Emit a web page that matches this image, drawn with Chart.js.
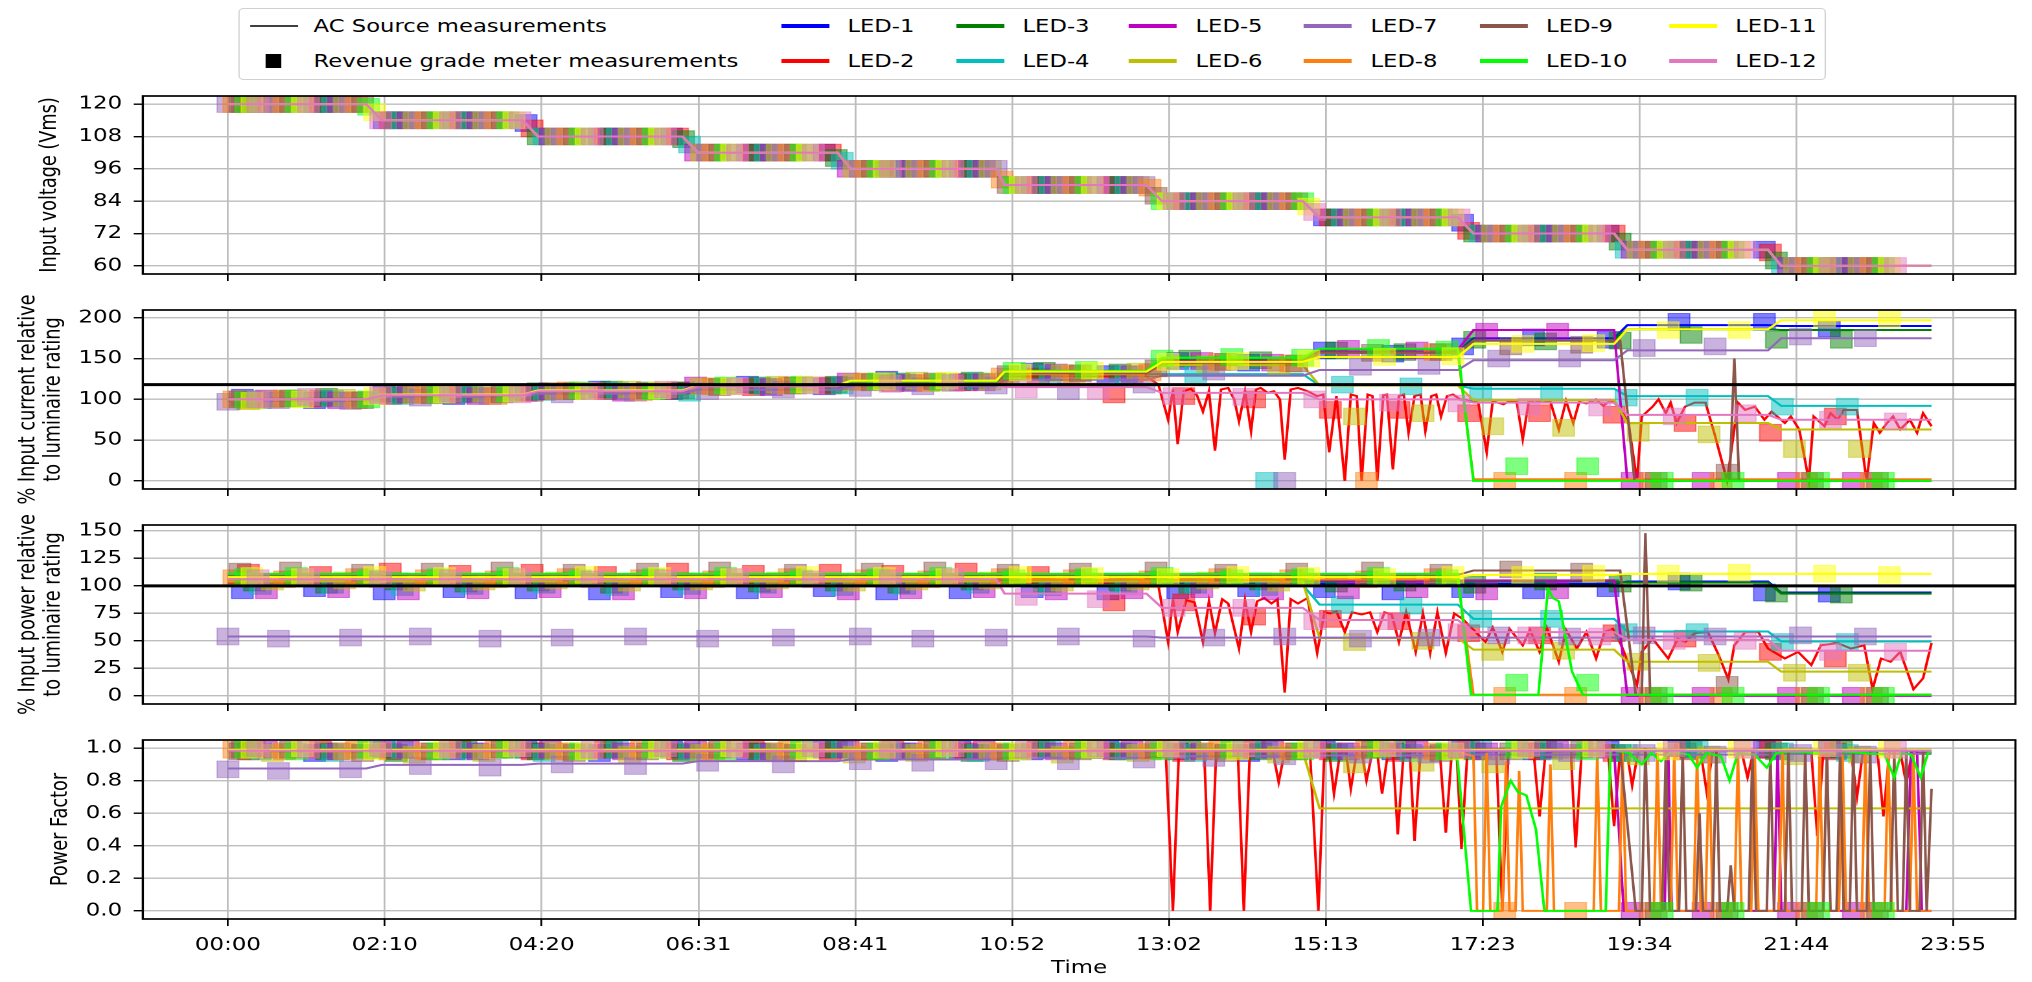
<!DOCTYPE html>
<html><head><meta charset="utf-8">
<script src="https://cdn.jsdelivr.net/npm/chart.js@4.4.0/dist/chart.umd.min.js"></script>
<style>
html,body{margin:0;padding:0;background:#fff;overflow:hidden;width:2032px;height:982px;}
#stage{position:absolute;left:0;top:0;width:1568px;height:982px;transform-origin:0 0;transform:scale(1.29592,1);}
#stage canvas{position:absolute;left:0;}
#legend{position:absolute;left:184.4px;top:8px;width:1224.6px;height:72px;border:1px solid #d0d0d0;border-radius:4px;background:#fff;box-sizing:border-box;font-family:'DejaVu Sans',sans-serif;font-size:17.5px;color:#000;}
.lt{position:absolute;height:20px;line-height:20px;white-space:nowrap;}
.sw{position:absolute;}
</style></head><body>
<div id="stage">
  <canvas id="c0"></canvas>
  <canvas id="c1"></canvas>
  <canvas id="c2"></canvas>
  <canvas id="c3"></canvas>
  <div id="legend"></div>
</div>
<script>
// ---------------- DATA ----------------
const ledNames = ['LED-1','LED-2','LED-3','LED-4','LED-5','LED-6','LED-7','LED-8','LED-9','LED-10','LED-11','LED-12'];
const ledColors = ['#0000ff','#ff0000','#008000','#00bfbf','#bf00bf','#bfbf00','#9467bd','#ff7f0e','#8c564b','#00ff00','#ffff00','#e377c2'];

const timeTickMinutes = [0,130.45,260.91,391.36,521.82,652.27,782.73,913.18,1043.64,1174.09,1304.55,1435];
const timeTickLabels = ['00:00','02:10','04:20','06:31','08:41','10:52','13:02','15:13','17:23','19:34','21:44','23:55'];
const voltTicks = [60,72,84,96,108,120];
const currentTicks = [0,50,100,150,200];
const powerTicks = [0,25,50,75,100,125,150];
const pfTicks = [0,0.2,0.4,0.6,0.8,1.0];
const currentLimit = 118;
const powerLimit = 100;

// AC source sample times (minutes) shared by the stepped series below
const sourceTimes = [0,115,128,245,258,378,391,507,518,639,646,764,777,894,908,1023,1036,1153,1164,1281,1292,1417];
const sourceVolt = [120,120,114,114,108,108,102,102,96,96,90,90,84,84,78,78,72,72,66,66,60,60];

// Current (% of rating), AC source
const led1Curr = [101,101,106,106,111,111,117,117,122,122,133,133,146,146,158,158,175,175,191,191,190,190];
const led2Curr = [[0,99],[115,99],[128,105],[245,105],[258,110],[378,110],[391,116],[507,116],[518,121],[639,121],[646,128],[764,128],[774,118],[782,75],[786,112],[790,45],[795,110],[801,113],[806,105],[811,85],[816,110],[821,37],[826,112],[832,114],[837,100],[841,73],[846,110],[851,61],[855,112],[859,114],[865,108],[870,110],[875,100],[879,26],[884,112],[890,114],[898,110],[906,104],[911,106],[916,35],[922,104],[929,0],[934,106],[939,104],[943,0],[948,106],[952,104],[956,0],[961,105],[964,106],[969,14],[974,104],[978,106],[982,59],[987,104],[992,106],[996,61],[1001,104],[1005,106],[1009,79],[1014,104],[1019,106],[1025,100],[1033,98],[1040,96],[1047,35],[1052,98],[1056,96],[1061,94],[1066,98],[1072,97],[1077,51],[1082,98],[1087,96],[1093,99],[1100,97],[1107,63],[1113,98],[1119,71],[1124,97],[1130,95],[1138,100],[1144,92],[1150,99],[1157,91],[1165,71],[1172,0],[1176,79],[1185,91],[1190,100],[1196,83],[1200,96],[1205,71],[1212,91],[1220,96],[1229,96],[1237,55],[1247,0],[1256,96],[1262,87],[1270,91],[1278,75],[1284,85],[1295,71],[1300,79],[1307,63],[1315,0],[1319,79],[1328,67],[1333,83],[1339,75],[1344,87],[1355,87],[1363,0],[1369,71],[1374,59],[1380,71],[1385,79],[1391,63],[1399,75],[1405,59],[1410,83],[1417,67]];
const led3Curr = [100,100,105,105,110,110,117,117,122,122,134,134,148,148,158,158,172,172,186,186,185,185];
const led4Curr = [100,100,105,105,110,110,116,116,121,121,131,131,131,131,117,117,113,113,104,104,92,92];
const led5Curr = [100,100,105,105,110,110,116,116,121,121,132,132,147,147,161,161,185,185,0,0,0,0];
const led6Curr = [100,100,105,105,110,110,116,116,121,121,132,132,142,142,117,117,99,99,71,71,63,63];
const led7Curr = [98,98,103,103,107,107,112,112,116,116,124,124,129,129,136,136,148,148,160,160,175,175];
const led8Curr = [100,100,105,105,110,110,116,116,121,121,131,131,145,145,157,157,2,2,2,2,2,2];
const led9Curr = [[0,100],[115,100],[128,105],[245,105],[258,110],[378,110],[391,116],[507,116],[518,121],[639,121],[646,132],[764,132],[777,145],[894,145],[908,157],[1023,157],[1036,172],[1158,172],[1170,0],[1249,0],[1253,150],[1257,0],[1417,0]];
const led10Curr = [100,100,106,106,111,111,117,117,122,122,135,135,151,151,162,162,0,0,0,0,0,0];
const led11Curr = [100,100,106,106,111,111,117,117,123,123,134,134,146,146,152,152,168,168,186,186,197,197];
const led12Curr = [100,100,105,105,110,110,116,116,119,119,115,115,108,108,100,100,96,96,81,81,75,75];

// Power (% of rating), AC source
const led1Pow = [102,102,102,102,102,102,102,102,102,102,102,102,102,102,102,102,102,102,104,104,94,94];
const led2Pow = [[0,103],[764,103],[774,100],[782,49],[786,88],[790,58],[797,87],[804,85],[811,49],[816,86],[821,57],[827,88],[832,84],[841,43],[846,87],[851,58],[856,86],[862,89],[868,84],[873,88],[879,3],[884,88],[890,84],[898,89],[906,39],[912,76],[917,75],[922,77],[929,58],[935,76],[943,74],[950,76],[956,58],[962,76],[968,74],[974,49],[980,76],[988,40],[994,75],[1000,39],[1006,76],[1013,39],[1020,75],[1027,70],[1036,60],[1046,49],[1052,62],[1060,40],[1066,61],[1077,46],[1083,60],[1091,40],[1097,62],[1107,31],[1113,60],[1122,43],[1130,58],[1138,34],[1145,58],[1152,61],[1159,46],[1172,10],[1176,40],[1185,52],[1198,34],[1206,52],[1212,49],[1220,57],[1231,58],[1240,37],[1248,15],[1253,46],[1262,58],[1273,58],[1281,43],[1295,34],[1306,40],[1317,28],[1325,46],[1339,48],[1350,43],[1361,46],[1368,6],[1375,34],[1383,31],[1391,40],[1402,6],[1410,16],[1417,48]];
const led3Pow = [104,104,104,104,104,104,104,104,104,104,104,104,104,104,104,104,104,104,103,103,93,93];
const led4Pow = [101,101,101,101,101,101,101,101,101,101,101,101,101,101,83,83,70,70,58.5,58.5,49.5,49.5];
const led5Pow = [105,105,105,105,105,105,105,105,105,105,105,105,105,105,105,105,105,105,0,0,0,0];
const led6Pow = [104,104,104,104,104,104,104,104,104,104,104,104,104,104,52.5,52.5,42,42,31,31,22,22];
const led7Pow = [54,54,54,54,54,54,54,54,54,54,54,54,53,53,53,53,53,53,54,54,54,54];
const led8Pow = [106,106,106,106,106,106,106,106,106,106,106,106,106,106,106,106,1,1,1,1,1,1];
const led9Pow = [[0,110],[1023,110],[1036,114],[1158,114],[1171,1],[1176,1],[1179,148],[1183,1],[1417,1]];
const led10Pow = [[0,111],[1023,111],[1034,1],[1090,1],[1098,98],[1102,89],[1107,86],[1118,22],[1127,1],[1417,1]];
const led11Pow = [108,108,108,108,108,108,108,108,108,108,108,108,108,108,108,108,110,110,111,111,111,111];
const led12Pow = [106,106,106,106,106,106,106,106,106,106,93,93,80,80,69,69,58,58,51,51,41,41];

// Power factor, AC source
const led1PF = [0.99,0.99,0.99,0.99,0.99,0.99,0.99,0.99,0.99,0.99,0.99,0.99,0.99,0.99,0.99,0.99,0.99,0.99,0.99,0.99,0.99,0.99];
const led2PF = [[0,0.98],[780,0.98],[786,0],[791,0.98],[812,0.98],[817,0],[822,0.98],[840,0.98],[845,0],[850,0.98],[869,0.98],[874,0.79],[879,0.98],[900,0.98],[907,0],[912,0.98],[916,0.98],[920,0.72],[925,0.97],[930,0.98],[934,0.75],[939,0.98],[943,0.98],[947,0.8],[952,0.98],[956,0.97],[960,0.72],[965,0.98],[969,0.98],[973,0.47],[978,0.98],[983,0.98],[987,0.43],[992,0.98],[1008,0.98],[1013,0.48],[1018,0.98],[1022,0.98],[1026,0.38],[1031,0.98],[1055,0.98],[1060,0],[1065,0.98],[1086,0.98],[1091,0.58],[1096,0.98],[1117,0.98],[1121,0.39],[1126,0.98],[1148,0.98],[1153,0.52],[1158,0.98],[1164,0.96],[1168,0.77],[1173,0.98],[1225,0.98],[1230,0.73],[1235,0.98],[1259,0.98],[1264,0.82],[1269,0.98],[1317,0.98],[1322,0.46],[1327,0.98],[1350,0.98],[1355,0.7],[1360,0.98],[1372,0.98],[1377,0.58],[1382,0.98],[1391,0.98],[1396,0.78],[1401,0.98],[1417,0.97]];
const led3PF = [0.985,0.985,0.985,0.985,0.985,0.985,0.985,0.985,0.985,0.985,0.985,0.985,0.985,0.985,0.985,0.985,0.985,0.985,0.985,0.985,0.985,0.985];
const led4PF = [0.98,0.98,0.98,0.98,0.98,0.98,0.98,0.98,0.98,0.98,0.98,0.98,0.98,0.98,0.98,0.98,0.98,0.98,0.98,0.98,0.98,0.98];
const led5PF = [[0,0.99],[1153,0.99],[1161,0],[1195,0],[1198,0.98],[1201,0],[1286,0],[1289,0.98],[1292,0],[1396,0],[1400,0.98],[1405,0.98],[1409,0],[1417,0]];
const led6PF = [0.98,0.98,0.98,0.98,0.98,0.98,0.98,0.98,0.98,0.98,0.98,0.98,0.98,0.98,0.63,0.63,0.63,0.63,0.63,0.63,0.63,0.63];
const led7PF = [0.875,0.875,0.897,0.897,0.905,0.905,0.92,0.92,0.93,0.93,0.94,0.94,0.95,0.95,0.955,0.955,0.96,0.96,0.96,0.96,0.965,0.965];
const led8PF = [[0,0.98],[1023,0.98],[1036,0.95],[1039,0],[1044,0],[1047,0.97],[1050,0],[1060,0],[1063,0.92],[1066,0],[1071,0],[1074,0.86],[1077,0],[1097,0],[1100,0.9],[1103,0],[1136,0],[1139,0.97],[1142,0],[1157,0],[1160,0.97],[1163,0],[1186,0],[1189,0.97],[1192,0],[1200,0],[1203,0.97],[1206,0],[1219,0],[1222,0.95],[1225,0],[1229,0],[1232,0.97],[1235,0],[1253,0],[1256,0.97],[1259,0],[1267,0],[1270,0.96],[1273,0],[1290,0],[1293,0.97],[1296,0],[1321,0],[1324,0.97],[1327,0],[1340,0],[1343,0.96],[1346,0],[1359,0],[1362,0.97],[1365,0],[1378,0],[1381,0.97],[1384,0],[1399,0],[1402,0.96],[1405,0],[1417,0]];
const led9PF = [[0,0.99],[1158,0.99],[1171,0],[1176,0],[1179,1.0],[1183,0],[1193,0],[1196,0.98],[1199,0],[1207,0],[1210,0.98],[1213,0],[1221,0],[1224,0.6],[1227,0],[1235,0],[1238,0.98],[1241,0],[1247,0],[1250,0.28],[1253,0],[1265,0],[1268,0.98],[1271,0],[1280,0],[1283,0.98],[1286,0],[1295,0],[1298,0.98],[1301,0],[1309,0],[1312,0.98],[1315,0],[1327,0],[1330,0.98],[1333,0],[1338,0],[1341,0.98],[1344,0],[1349,0],[1352,0.98],[1355,0],[1363,0],[1366,0.98],[1369,0],[1383,0],[1386,0.98],[1389,0],[1393,0],[1396,0.98],[1399,0],[1407,0],[1410,0.98],[1413,0],[1417,0.75]];
const led10PF = [[0,0.99],[1022,0.99],[1034,0],[1056,0],[1059,0.64],[1067,0.8],[1073,0.73],[1080,0.71],[1088,0.5],[1095,0],[1146,0],[1150,0.99],[1165,0.97],[1176,0.9],[1184,0.97],[1192,0.92],[1200,0.98],[1215,0.96],[1222,0.88],[1230,0.97],[1242,0.95],[1249,0.8],[1256,0.97],[1270,0.96],[1280,0.88],[1288,0.97],[1300,0.98],[1320,0.97],[1340,0.98],[1360,0.97],[1378,0.96],[1386,0.82],[1392,0.97],[1400,0.96],[1408,0.82],[1414,0.97],[1417,0.98]];
const led11PF = [0.99,0.99,0.99,0.99,0.99,0.99,0.99,0.99,0.99,0.99,0.99,0.99,0.99,0.99,0.99,0.99,0.99,0.99,0.99,0.99,0.99,0.99];
const led12PF = [0.985,0.985,0.985,0.985,0.985,0.985,0.985,0.985,0.985,0.985,0.985,0.985,0.985,0.985,0.985,0.985,0.985,0.985,0.985,0.985,0.985,0.985];

// Revenue grade meter readings: times (minutes) and values per LED
const led1MeterTimes = [12,72,130,188,248,309,369,432,496,548,609,669,732,790,849,912,969,1027,1086,1148,1207,1278,1332];
const led1MeterVolt = [120,120,114,114,113,108,108,102,102,96,96,90,90,84,84,78,78,76,72,72,66,66,60];
const led1MeterCurr = [102,99,107,104,108,112,110,118,116,124,121,134,131,147,145,160,156,165,176,173,195,195,187];
const led1MeterPow = [96,98,95,97,96,95,97,96,98,95,96,97,95,96,98,97,95,97,96,98,104,94,93];
const led1MeterPF = [0.99,0.97,0.99,0.98,0.99,0.97,0.99,0.98,0.99,0.97,0.99,0.98,0.99,0.98,0.97,0.99,0.98,0.99,0.98,0.99,1.0,0.99,0.99];

const led2MeterTimes = [17,77,135,193,253,314,374,437,501,553,614,674,737,795,854,917,974,1032,1091,1153,1212,1283,1337];
const led2MeterVolt = [120,120,114,114,111,108,108,102,102,96,96,90,90,84,84,78,78,73,72,72,66,65,60];
const led2MeterCurr = [98,101,104,106,108,110,111,115,117,120,121,128,106,104,100,87,87,83,83,81,71,59,79];
const led2MeterPow = [112,110,113,111,112,110,113,111,112,111,113,110,85,85,72,70,68,57,55,57,52,40,34];
const led2MeterPF = [0.98,0.99,0.98,0.99,0.98,0.99,0.98,0.99,0.98,0.99,0.98,0.99,0.98,0.97,0.99,0.98,0.97,0.99,0.98,0.97,0.98,0.99,0.98];

const led3MeterTimes = [22,82,140,198,258,319,379,442,506,558,619,679,742,800,859,922,979,1037,1096,1158,1217,1288,1342];
const led3MeterVolt = [120,120,114,114,108,108,107,102,100,96,96,90,90,84,84,78,78,72,72,69,66,62,60];
const led3MeterCurr = [100,103,105,107,110,112,111,117,118,122,123,135,133,150,148,160,158,173,171,172,179,173,173];
const led3MeterPow = [103,101,104,102,103,101,104,102,103,101,104,102,103,101,104,102,103,101,104,102,103,93,92];
const led3MeterPF = [0.99,0.98,0.97,0.99,0.98,0.99,0.97,0.98,0.99,0.98,0.97,0.99,0.98,0.99,0.98,0.97,0.99,0.98,0.99,0.97,0.99,0.98,0.99];

const led4MeterTimes = [27,87,145,203,263,324,384,447,511,563,624,684,747,805,864,927,984,1042,1101,1163,1222,1293,1347];
const led4MeterVolt = [120,120,114,114,108,108,105,102,99,96,96,90,90,84,84,78,78,72,72,66,66,60,60];
const led4MeterCurr = [99,101,104,106,109,111,108,116,117,121,122,131,130,131,0,118,116,108,108,102,102,91,91];
const led4MeterPow = [100,101,99,100,101,99,100,101,99,100,101,99,100,101,99,83,82,70,70,58,58,49,49];
const led4MeterPF = [0.98,0.97,0.99,0.98,0.97,0.99,0.98,0.97,0.99,0.98,0.97,0.99,0.98,0.97,0.99,0.98,0.97,0.99,0.98,0.97,0.99,0.98,0.97];

const led5MeterTimes = [32,92,150,208,268,329,389,452,516,568,629,689,752,810,869,932,989,1047,1106,1168,1227,1298,1352];
const led5MeterVolt = [120,120,114,114,108,108,102,102,96,96,96,90,90,84,84,78,78,72,72,66,66,60,60];
const led5MeterCurr = [101,99,106,104,110,108,117,115,122,120,121,133,131,147,145,162,160,183,183,0,0,0,0];
const led5MeterPow = [96,97,95,96,97,95,96,97,95,96,97,95,96,97,95,96,97,95,96,0,0,0,0];
const led5MeterPF = [0.99,0.98,0.99,0.98,0.99,0.98,0.99,0.98,0.99,0.98,0.99,0.98,0.99,0.98,0.99,0.98,0.99,0.98,0.99,0,0,0,0];

const led6MeterTimes = [37,97,155,213,273,334,394,457,521,573,634,694,757,815,874,937,994,1052,1111,1173,1232,1303,1357];
const led6MeterVolt = [120,120,114,114,108,108,102,102,96,96,96,90,90,84,84,78,78,72,72,66,66,60,60];
const led6MeterCurr = [100,102,105,107,110,112,116,118,121,123,122,132,134,143,141,79,83,67,65,59,57,39,39];
const led6MeterPow = [104,105,103,104,105,103,104,105,103,104,105,103,104,105,103,49,50,40,41,31,30,21,21];
const led6MeterPF = [0.97,0.98,0.96,0.97,0.98,0.96,0.97,0.98,0.96,0.97,0.98,0.96,0.97,0.98,0.96,0.9,0.91,0.9,0.92,0.95,0.96,0.95,0.96];

const led7MeterTimes = [0,42,102,160,218,278,339,399,462,526,578,639,699,762,820,879,942,999,1057,1116,1178,1237,1308,1362];
const led7MeterVolt = [120,120,120,114,114,108,108,102,102,96,96,96,90,90,84,84,78,78,72,72,66,66,60,60];
const led7MeterCurr = [97,99,98,102,104,106,108,110,112,114,116,117,110,118,134,0,140,141,150,150,163,165,177,175];
const led7MeterPow = [54,52,53,54,52,53,54,52,53,54,52,53,54,52,53,54,52,53,55,54,55,54,55,54];
const led7MeterPF = [0.87,0.86,0.87,0.89,0.88,0.90,0.89,0.91,0.90,0.92,0.91,0.92,0.92,0.93,0.94,0.95,0.96,0.96,0.95,0.97,0.97,0.96,0.97,0.96];

const led8MeterTimes = [5,47,107,165,223,283,344,404,467,531,583,644,704,767,825,884,947,1004,1062,1121,1183,1242,1313,1367];
const led8MeterVolt = [120,120,120,114,114,108,108,102,102,96,96,92,90,89,84,84,78,78,72,72,66,66,60,60];
const led8MeterCurr = [100,101,99,106,104,111,109,116,117,122,120,128,131,133,146,144,0,158,0,0,0,0,0,0];
const led8MeterPow = [107,106,108,107,106,108,107,106,108,107,106,108,107,106,108,107,106,108,0,0,0,0,0,0];
const led8MeterPF = [0.99,0.98,0.99,0.98,0.99,0.98,0.99,0.98,0.99,0.98,0.99,0.98,0.99,0.98,0.99,0.98,0.99,0.98,0,0,0,0,0,0];

const led9MeterTimes = [10,52,112,170,228,288,349,409,472,536,588,649,709,772,830,889,952,1009,1067,1126,1188,1247,1318,1372];
const led9MeterVolt = [120,120,120,114,114,108,108,102,102,96,96,90,90,86,84,84,78,78,72,72,66,66,60,60];
const led9MeterCurr = [100,101,99,105,106,110,111,115,117,121,122,131,132,138,146,144,157,158,165,167,0,10,0,0];
const led9MeterPow = [113,114,112,113,114,112,113,114,112,113,114,112,113,114,112,113,114,112,115,113,0,10,0,0];
const led9MeterPF = [0.98,0.99,0.97,0.98,0.99,0.97,0.98,0.99,0.97,0.98,0.99,0.97,0.98,0.99,0.97,0.98,0.99,0.97,0.98,0.99,0,0,0,0];

const led10MeterTimes = [15,57,117,175,233,293,354,414,477,541,593,654,714,777,835,894,957,1014,1072,1131,1193,1252,1323,1377];
const led10MeterVolt = [120,120,119,114,114,108,108,102,102,96,96,90,90,84,84,84,78,78,72,72,66,66,60,60];
const led10MeterCurr = [99,101,100,106,107,111,110,117,118,122,121,135,136,150,152,151,163,161,18,18,0,0,0,0];
const led10MeterPow = [108,109,107,108,109,107,108,109,107,108,109,107,108,109,107,108,109,107,12,12,0,0,0,0];
const led10MeterPF = [0.99,0.98,0.99,0.98,0.99,0.98,0.99,0.98,0.99,0.98,0.99,0.98,0.99,0.98,0.99,0.98,0.99,0.98,0.99,0.98,0,0,0,0];

const led11MeterTimes = [20,62,122,180,238,298,359,419,482,546,598,659,719,782,840,899,962,1019,1077,1136,1198,1257,1328,1382];
const led11MeterVolt = [120,120,117,114,114,108,108,102,102,96,96,90,90,84,84,82,78,78,72,72,66,66,60,60];
const led11MeterCurr = [98,100,104,106,107,110,111,116,118,122,123,133,135,146,147,150,152,153,168,169,185,185,199,199];
const led11MeterPow = [109,108,110,109,108,110,109,108,110,109,108,110,109,108,110,109,108,110,110,111,111,112,111,110];
const led11MeterPF = [0.99,1.0,0.98,0.99,1.0,0.98,0.99,1.0,0.98,0.99,1.0,0.98,0.99,1.0,0.98,0.99,1.0,0.98,0.99,1.0,0.98,0.99,1.0,0.99];

const led12MeterTimes = [25,67,127,185,243,303,364,424,487,551,603,664,724,787,845,904,967,1024,1082,1141,1203,1262,1333,1387];
const led12MeterVolt = [120,120,114,114,114,108,108,102,102,96,96,90,90,84,84,80,78,78,72,72,66,66,60,60];
const led12MeterCurr = [100,103,105,107,106,110,112,116,117,119,120,112,110,104,103,100,96,95,91,90,79,83,75,73];
const led12MeterPow = [107,108,106,107,108,106,107,108,106,107,108,90,88,80,80,68,68,58,55,54,50,50,40,40];
const led12MeterPF = [1.0,0.99,1.0,0.99,1.0,0.99,1.0,0.99,1.0,0.99,1.0,0.99,1.0,0.99,1.0,0.99,1.0,0.99,1.0,0.99,1.0,0.99,1.0,0.99];

// ---------------- BUILD ----------------
const currLines = [led1Curr,led2Curr,led3Curr,led4Curr,led5Curr,led6Curr,led7Curr,led8Curr,led9Curr,led10Curr,led11Curr,led12Curr];
const powLines = [led1Pow,led2Pow,led3Pow,led4Pow,led5Pow,led6Pow,led7Pow,led8Pow,led9Pow,led10Pow,led11Pow,led12Pow];
const pfLines = [led1PF,led2PF,led3PF,led4PF,led5PF,led6PF,led7PF,led8PF,led9PF,led10PF,led11PF,led12PF];
const voltLines = ledNames.map(() => sourceVolt);
const meterTimes = [led1MeterTimes,led2MeterTimes,led3MeterTimes,led4MeterTimes,led5MeterTimes,led6MeterTimes,led7MeterTimes,led8MeterTimes,led9MeterTimes,led10MeterTimes,led11MeterTimes,led12MeterTimes];
const meterVolt = [led1MeterVolt,led2MeterVolt,led3MeterVolt,led4MeterVolt,led5MeterVolt,led6MeterVolt,led7MeterVolt,led8MeterVolt,led9MeterVolt,led10MeterVolt,led11MeterVolt,led12MeterVolt];
const meterCurr = [led1MeterCurr,led2MeterCurr,led3MeterCurr,led4MeterCurr,led5MeterCurr,led6MeterCurr,led7MeterCurr,led8MeterCurr,led9MeterCurr,led10MeterCurr,led11MeterCurr,led12MeterCurr];
const meterPow = [led1MeterPow,led2MeterPow,led3MeterPow,led4MeterPow,led5MeterPow,led6MeterPow,led7MeterPow,led8MeterPow,led9MeterPow,led10MeterPow,led11MeterPow,led12MeterPow];
const meterPF = [led1MeterPF,led2MeterPF,led3MeterPF,led4MeterPF,led5MeterPF,led6MeterPF,led7MeterPF,led8MeterPF,led9MeterPF,led10MeterPF,led11MeterPF,led12MeterPF];

function seriesPoints(s) {
  return Array.isArray(s[0]) ? s.map(p => ({x: p[0], y: p[1]})) : s.map((v, i) => ({x: sourceTimes[i], y: v}));
}
function meterPoints(times, vals) { return times.map((t, i) => ({x: t, y: vals[i]})); }
function rgba(hex, a) { const n = parseInt(hex.slice(1), 16); return 'rgba(' + (n >> 16) + ',' + ((n >> 8) & 255) + ',' + (n & 255) + ',' + a + ')'; }

Chart.defaults.font.family = "'DejaVu Sans', sans-serif";
Chart.defaults.font.size = 17.7;
Chart.defaults.color = '#000';

const W = 1568, PLOT_RIGHT = 1565.7, PLOT_LEFT = 110.2;
const X_MIN = -70.8, X_MAX = 1486.8;
const GRID = '#bdbdbd';
const PAD = 45;

const framePlugin = {
  id: 'frame',
  afterDatasetsDraw(chart) {
    const a = chart.chartArea, ctx = chart.ctx;
    ctx.save(); ctx.strokeStyle = '#000'; ctx.lineWidth = 1.7;
    ctx.strokeRect(a.left, a.top, a.right - a.left, a.bottom - a.top);
    ctx.restore();
  }
};

const panels = [
  {top: 96, h: 178, lines: voltLines, meter: meterVolt, min: 57, max: 123, ticks: voltTicks, fmt: v => String(v), title: 'Input voltage (Vms)', tpad: 28, lh: 1.2, ref: null},
  {top: 309.5, h: 179, lines: currLines, meter: meterCurr, min: -9.98, max: 209.6, ticks: currentTicks, fmt: v => String(v), title: ['% Input current relative', 'to luminaire rating'], tpad: 11.8, lh: 1.12, ref: currentLimit},
  {top: 525, h: 179, lines: powLines, meter: meterPow, min: -7.4, max: 155.4, ticks: powerTicks, fmt: v => String(v), title: ['% Input power relative', 'to luminaire rating'], tpad: 11.8, lh: 1.12, ref: powerLimit},
  {top: 740, h: 179.5, lines: pfLines, meter: meterPF, min: -0.05, max: 1.05, ticks: pfTicks, fmt: v => v.toFixed(1), title: 'Power Factor', tpad: 36.4, lh: 1.2, ref: null}
];

panels.forEach((p, idx) => {
  const isBottom = idx === 3;
  const canvas = document.getElementById('c' + idx);
  const ctop = p.top - PAD;
  const cheight = isBottom ? 982 - ctop : PAD + p.h + PAD;
  canvas.style.top = ctop + 'px';
  canvas.width = W; canvas.height = cheight;
  canvas.style.width = W + 'px'; canvas.style.height = cheight + 'px';

  const datasets = [];
  let ord = 1000;
  for (let i = 0; i < 12; i++) {
    datasets.push({
      data: seriesPoints(p.lines[i]), showLine: true, borderColor: ledColors[i], borderWidth: 2,
      pointRadius: 0, tension: 0, fill: false, clip: 0, order: ord--
    });
    datasets.push({
      data: meterPoints(meterTimes[i], p.meter[i]), showLine: false, pointStyle: 'rect', pointRadius: 11.8,
      backgroundColor: rgba(ledColors[i], 0.5), borderColor: rgba(ledColors[i], 0.45), borderWidth: 1, clip: 0, order: ord--
    });
  }
  if (p.ref !== null) {
    datasets.push({data: [{x: X_MIN, y: p.ref}, {x: X_MAX, y: p.ref}], showLine: true, borderColor: '#000', borderWidth: 3, pointRadius: 0, clip: 0, order: 0});
  }

  new Chart(canvas, {
    type: 'scatter',
    data: {datasets},
    plugins: [framePlugin],
    options: {
      responsive: false, animation: false, devicePixelRatio: 2, events: [],
      layout: {padding: {top: PAD, left: 0, right: W - PLOT_RIGHT, bottom: isBottom ? 0 : PAD - 10}},
      plugins: {legend: {display: false}, tooltip: {enabled: false}},
      scales: {
        x: {
          type: 'linear', min: X_MIN, max: X_MAX,
          afterBuildTicks: s => { s.ticks = timeTickMinutes.map(v => ({value: v})); },
          afterFit: s => { s.height = isBottom ? 63 : 10; },
          grid: {color: GRID, lineWidth: 1.4, drawTicks: true, tickLength: 7, tickColor: '#000', tickWidth: 1.4},
          border: {display: false},
          ticks: {display: isBottom, autoSkip: false, maxRotation: 0, padding: 9, color: '#000', callback: (v, i) => timeTickLabels[i]},
          title: {display: isBottom, text: 'Time', color: '#000', padding: {top: 0, bottom: 3}}
        },
        y: {
          type: 'linear', min: p.min, max: p.max,
          afterBuildTicks: s => { s.ticks = p.ticks.map(v => ({value: v})); },
          afterFit: s => { s.width = PLOT_LEFT; },
          grid: {color: GRID, lineWidth: 1.4, drawTicks: true, tickLength: 7, tickColor: '#000', tickWidth: 1.4},
          border: {display: false},
          ticks: {padding: 9, color: '#000', callback: v => p.fmt(v)},
          title: {display: true, text: p.title, color: '#000', font: {size: 17.7, lineHeight: p.lh}, padding: {top: p.tpad, bottom: 0}}
        }
      }
    }
  });
});

// ---------------- LEGEND ----------------
const legend = document.getElementById('legend');
const rowY = [17.3, 51.7];
const colHandleX = [417.5, 552.6, 686.1, 821.1, 956.6, 1102.6];
function addEl(cls, style, text) {
  const d = document.createElement('div'); d.className = cls; Object.assign(d.style, style);
  if (text) d.textContent = text; legend.appendChild(d); return d;
}
addEl('sw', {left: '7.6px', top: (rowY[0] - 1) + 'px', width: '37px', height: '2px', background: '#404040'});
addEl('lt', {left: '56.6px', top: (rowY[0] - 10) + 'px'}, 'AC Source measurements');
addEl('sw', {left: '20px', top: (rowY[1] - 7) + 'px', width: '12px', height: '14px', background: '#000'});
addEl('lt', {left: '56.6px', top: (rowY[1] - 10) + 'px'}, 'Revenue grade meter measurements');
ledNames.forEach((name, i) => {
  const col = Math.floor(i / 2), row = i % 2;
  addEl('sw', {left: colHandleX[col] + 'px', top: (rowY[row] - 2) + 'px', width: '37px', height: '4px', background: ledColors[i]});
  addEl('lt', {left: (colHandleX[col] + 51) + 'px', top: (rowY[row] - 10) + 'px'}, name);
});
</script>
</body></html>
